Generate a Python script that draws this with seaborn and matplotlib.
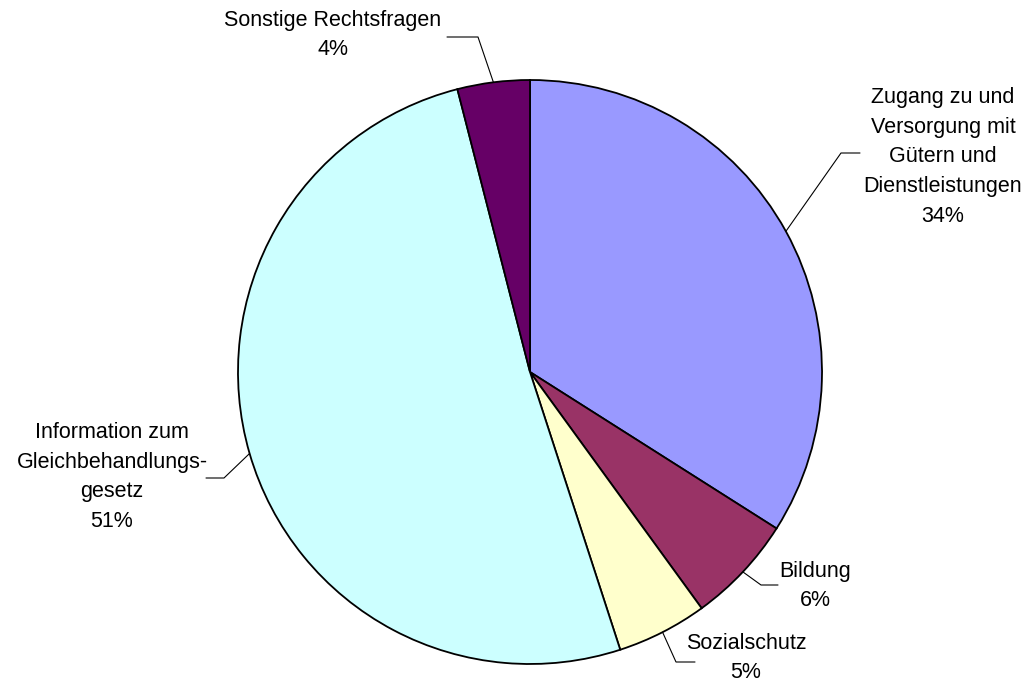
import numpy as np
import matplotlib
matplotlib.use("Agg")
import matplotlib.pyplot as plt
import seaborn as sns

# Data
labels = ["Zugang zu und\nVersorgung mit\nGütern und\nDienstleistungen",
          "Bildung", "Sozialschutz",
          "Information zum\nGleichbehandlungs-\ngesetz",
          "Sonstige Rechtsfragen"]
shares = [34, 6, 5, 51, 4]
colors = ["#9999FF", "#993366", "#FFFFCC", "#CCFFFF", "#660066"]

# label text centres and leader elbows (pixel coords, y down)
text_pos = [(943, 157), (815, 586), (746, 658), (112, 477), (333, 35)]
elbow = [(841, 153), (761, 585), (676, 662), (224, 478), (478, 37)]
line_end = [(860, 153), (778, 585), (695, 662), (206, 478), (447, 37)]

W, H = 1027, 689
sns.set_theme(style="white")
plt.rcParams['font.family'] = ['Liberation Sans', 'DejaVu Sans']

fig = plt.figure(figsize=(W / 100, H / 100), dpi=100)
ax = fig.add_axes([0, 0, 1, 1])

cx, cy, r = 530, H - 372, 292
wedges, _ = ax.pie(shares, colors=colors, startangle=90, counterclock=False,
                   center=(cx, cy), radius=r, frame=True,
                   wedgeprops=dict(edgecolor="black", linewidth=1.3))
ax.set_xlim(0, W)
ax.set_ylim(0, H)
ax.set_aspect("equal")
ax.axis("off")

for w, lab, s, tp, el, le in zip(wedges, labels, shares, text_pos, elbow, line_end):
    mid = np.deg2rad((w.theta1 + w.theta2) / 2)
    sx, sy = cx + r * np.cos(mid), cy + r * np.sin(mid)
    ax.plot([sx, el[0], le[0]], [sy, H - el[1], H - le[1]], color="black", lw=0.8)
    ax.text(tp[0], H - tp[1], f"{lab}\n{s}%", ha="center", va="center",
            fontsize=15.5, linespacing=1.55, color="black")

fig.savefig("out.png", dpi=100, facecolor="white")
